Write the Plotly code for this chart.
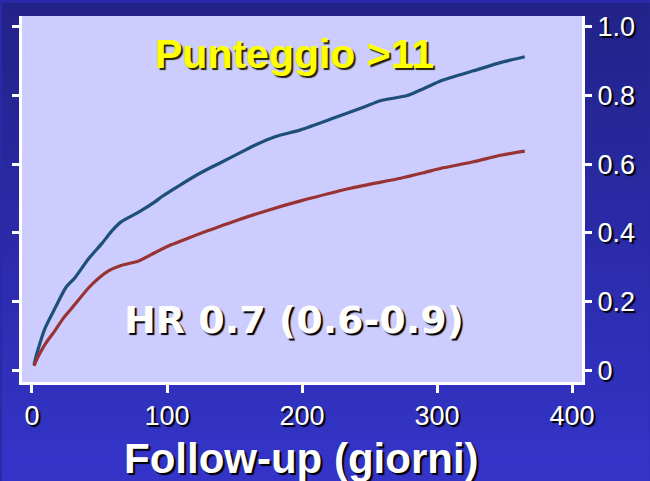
import plotly.graph_objects as go

# ---- data ----
blue_days = [1.5, 3, 6, 10, 17, 25, 32, 42, 52, 59, 66, 79, 91, 96, 110, 125, 140, 155, 165, 180, 199, 224, 245, 258, 278, 290, 303, 327, 347, 365]
blue_vals = [0.015, 0.04, 0.08, 0.125, 0.18, 0.24, 0.27, 0.325, 0.37, 0.405, 0.432, 0.46, 0.49, 0.505, 0.54, 0.575, 0.605, 0.635, 0.655, 0.68, 0.70, 0.735, 0.765, 0.785, 0.80, 0.82, 0.843, 0.872, 0.896, 0.913]
red_days = [1.5, 4, 10, 17, 23, 30, 42, 50, 57, 66, 79, 91, 103, 116, 128, 140, 150, 175, 199, 236, 273, 290, 303, 327, 347, 365]
red_vals = [0.012, 0.035, 0.077, 0.115, 0.15, 0.183, 0.24, 0.27, 0.29, 0.305, 0.318, 0.342, 0.365, 0.385, 0.403, 0.42, 0.434, 0.466, 0.493, 0.53, 0.559, 0.575, 0.588, 0.607, 0.626, 0.638]
x_ticks = [0, 100, 200, 300, 400]
x_ticktext = ["0", "100", "200", "300", "400"]
y_ticks = [0, 0.2, 0.4, 0.6, 0.8, 1.0]
y_ticktext = ["0", "0.2", "0.4", "0.6", "0.8", "1.0"]
title_text = "Punteggio >11"
hr_text = "HR 0.7 (0.6-0.9)"
xlabel = "Follow-up (giorni)"

W, H = 650, 481
L, R, T, B = 20, 68, 13, 99
pw, ph = W - L - R, H - T - B

def px_x(p):
    return (p - L) / pw

def px_y(p):
    return (H - B - p) / ph

fig = go.Figure()
fig.add_trace(go.Scatter(x=blue_days, y=blue_vals, mode="lines",
                         line=dict(color="#1d4f7a", width=3.2, shape="spline", smoothing=0.6),
                         showlegend=False, hoverinfo="skip"))
fig.add_trace(go.Scatter(x=red_days, y=red_vals, mode="lines",
                         line=dict(color="#993333", width=3.2, shape="spline", smoothing=0.6),
                         showlegend=False, hoverinfo="skip"))

# background gradient bands
shapes = []
n = 48
top = (34, 34, 136)
bot = (52, 52, 202)
for i in range(n):
    y0p = H * i / n
    y1p = H * (i + 1) / n + 1
    t = (i + 0.5) / n
    c = tuple(int(round(top[k] + (bot[k] - top[k]) * t)) for k in range(3))
    shapes.append(dict(type="rect", xref="paper", yref="paper",
                       x0=px_x(0), x1=px_x(W), y0=px_y(y1p), y1=px_y(y0p),
                       fillcolor="rgb(%d,%d,%d)" % c, line=dict(width=0), layer="below"))
shapes.append(dict(type="rect", xref="paper", yref="paper", x0=0, x1=1, y0=0, y1=1,
                   fillcolor="#ccccff", line=dict(width=0), layer="below"))

shadow = "2px 2px 1px #000000"
fig.update_layout(
    width=W, height=H,
    margin=dict(l=L, r=R, t=T, b=B),
    paper_bgcolor="#2a2aa8",
    plot_bgcolor="#ccccff",
    shapes=shapes,
    xaxis=dict(range=[-7.4, 407.4], tickvals=x_ticks, ticktext=x_ticktext,
               showgrid=False, zeroline=False, showline=True, linecolor="white", linewidth=3,
               ticks="outside", ticklen=8, tickwidth=2.5, tickcolor="white",
               tickfont=dict(family="Liberation Sans, Arial", size=27, color="white", shadow=shadow)),
    yaxis=dict(range=[-0.0347, 1.0318], tickvals=y_ticks, ticktext=y_ticktext, side="right",
               mirror="ticks", showgrid=False, zeroline=False, showline=True, linecolor="white", linewidth=3,
               ticks="outside", ticklen=7, tickwidth=2.5, tickcolor="white",
               tickfont=dict(family="Liberation Sans, Arial", size=27, color="white", shadow=shadow)),
    annotations=[
        dict(text=title_text, xref="paper", yref="paper", x=px_x(293), y=px_y(51),
             xanchor="center", yanchor="middle", showarrow=False,
             font=dict(family="Liberation Sans, Arial", size=41, color="#ffff00",
                       weight="bold", shadow="2px 2px 1px #222200")),
        dict(text=hr_text, xref="paper", yref="paper", x=px_x(293), y=px_y(319),
             xanchor="center", yanchor="middle", showarrow=False,
             font=dict(family="DejaVu Sans", size=38, color="white",
                       weight="bold", shadow=shadow)),
        dict(text=xlabel, xref="paper", yref="paper", x=px_x(300), y=px_y(459),
             xanchor="center", yanchor="middle", showarrow=False,
             font=dict(family="Liberation Sans, Arial", size=42, color="white",
                       weight="bold", shadow=shadow)),
    ],
)

fig.write_html("out.html", config={"displayModeBar": False},
               post_script="document.documentElement.style.margin='0';document.body.style.margin='0';document.body.style.padding='0';")
